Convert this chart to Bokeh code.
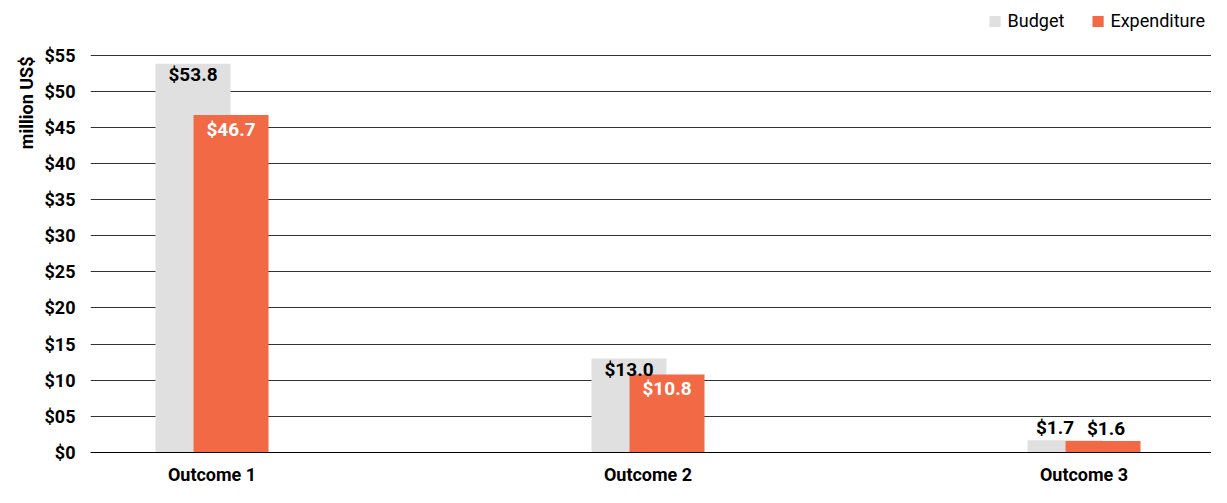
from bokeh.plotting import figure
from bokeh.models import (ColumnDataSource, Range1d, FixedTicker, Legend, LegendItem, Title)
from bokeh.embed import file_html
from bokeh.resources import INLINE

categories = ["Outcome 1", "Outcome 2", "Outcome 3"]
budget = [53.8, 13.0, 1.7]
expenditure = [46.7, 10.8, 1.6]
y_ticks = [0, 5, 10, 15, 20, 25, 30, 35, 40, 45, 50, 55]
y_tick_labels = ["$0", "$05", "$10", "$15", "$20", "$25", "$30", "$35", "$40", "$45", "$50", "$55"]

FONT = "Roboto"
GRAY = "#E0E0E0"
ORANGE = "#F26946"

idx = list(range(len(categories)))
bw = 0.172
off = 0.0436
INSIDE_MIN = 4.0  # values smaller than this get their label above the bar

def label_data(xs, vals, inside_color, inside_off, outside_shift):
    ys, bases, cols, offs, xoffs, txt = [], [], [], [], [], []
    for x, v in zip(xs, vals):
        txt.append(f"${v:.1f}")
        ys.append(v)
        if v >= INSIDE_MIN:
            bases.append("top"); cols.append(inside_color); offs.append(inside_off); xoffs.append(0)
        else:
            bases.append("bottom"); cols.append("black"); offs.append(-1); xoffs.append(outside_shift)
    return dict(x=xs, y=ys, base=bases, color=cols, yoff=offs, xoff=xoffs, text=txt)

bx = [i - off for i in idx]
ex = [i + off for i in idx]
src_b = ColumnDataSource(dict(x=bx, top=budget))
src_e = ColumnDataSource(dict(x=ex, top=expenditure))
lab_b = ColumnDataSource(label_data(bx, budget, "black", -1, -10))
lab_e = ColumnDataSource(label_data(ex, expenditure, "white", 3, 3))

p = figure(width=1211, height=487, output_backend="svg", toolbar_location=None,
           x_range=Range1d(-0.2787, 2.2924), y_range=Range1d(0, 62.0),
           min_border_left=90, min_border_right=0, min_border_top=4, min_border_bottom=28)
p.outline_line_color = None
p.background_fill_color = "white"
p.border_fill_color = "white"

rb = p.vbar(x="x", top="top", width=bw, source=src_b, fill_color=GRAY, line_color=None)
re_ = p.vbar(x="x", top="top", width=bw, source=src_e, fill_color=ORANGE, line_color=None)

for s in (lab_b, lab_e):
    p.text(x="x", y="y", text="text", source=s, text_align="center", text_baseline="base",
           text_color="color", y_offset="yoff", x_offset="xoff",
           text_font_size="19px", text_font_style="bold", text_font={"value": FONT})

# axes
p.xaxis.ticker = FixedTicker(ticks=idx)
p.xaxis.major_label_overrides = {i: c for i, c in zip(idx, categories)}
p.xaxis.major_tick_line_color = None
p.xaxis.minor_tick_line_color = None
p.xaxis.axis_line_color = "black"
p.xaxis.axis_line_width = 1
p.xaxis.major_label_text_font = FONT
p.xaxis.major_label_text_font_style = "bold"
p.xaxis.major_label_text_font_size = "18px"
p.xaxis.major_label_text_color = "black"
p.xaxis.major_label_standoff = 5

p.yaxis.ticker = FixedTicker(ticks=y_ticks)
p.yaxis.major_label_overrides = {t: l for t, l in zip(y_ticks, y_tick_labels)}
p.yaxis.major_tick_line_color = None
p.yaxis.minor_tick_line_color = None
p.yaxis.axis_line_color = None
p.yaxis.major_label_text_font = FONT
p.yaxis.major_label_text_font_style = "bold"
p.yaxis.major_label_text_font_size = "18px"
p.yaxis.major_label_text_color = "black"
p.yaxis.major_label_standoff = 9

p.xgrid.grid_line_color = None
p.ygrid.ticker = FixedTicker(ticks=y_ticks)
p.ygrid.grid_line_color = "#333333"
p.ygrid.grid_line_width = 1

t = Title(text="million US$", align="right", text_font=FONT, text_font_style="bold",
          text_font_size="18px", text_color="black", offset=52)
p.add_layout(t, "left")

legend = Legend(items=[LegendItem(label="Budget", renderers=[rb]),
                       LegendItem(label="Expenditure", renderers=[re_])],
                orientation="horizontal", location="top_right")
legend.label_text_font = FONT
legend.label_text_font_size = "18px"
legend.label_text_color = "black"
legend.glyph_width = 14
legend.glyph_height = 14
legend.label_standoff = 6
legend.spacing = 26
legend.padding = 2
legend.margin = 6
legend.border_line_color = None
legend.background_fill_alpha = 0
p.add_layout(legend)

open("out.html", "w").write(file_html(p, INLINE))
